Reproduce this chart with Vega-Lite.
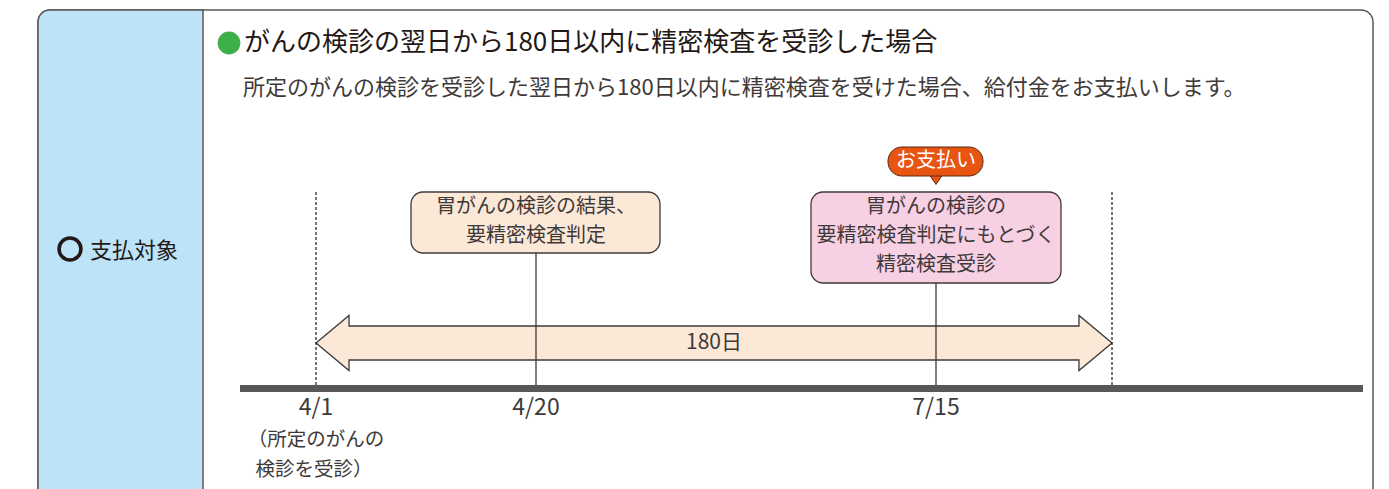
{
  "$schema": "https://vega.github.io/schema/vega-lite/v6.json",
  "width": 1389,
  "height": 489,
  "padding": 0,
  "autosize": {"type": "fit", "contains": "padding"},
  "background": "white",
  "config": {"view": {"stroke": null}, "text": {"font": "Noto Sans CJK JP"}},
  "datasets": {
    "frame": [{"x": 38, "x2": 1373, "y": 10, "y2": 540}],
    "panel": [{"x": 38, "x2": 203, "y": 10, "y2": 540}],
    "ring": [{"x": 70, "y": 249}],
    "dot": [{"x": 229, "y": 43}],
    "title": [{"x": 244, "y": 43, "t": "がんの検診の翌日から180日以内に精密検査を受診した場合"}],
    "subtitle": [{"x": 243, "y": 88, "t": "所定のがんの検診を受診した翌日から180日以内に精密検査を受けた場合、給付金をお支払いします。"}],
    "side": [{"x": 90, "y": 251, "t": "支払対象"}],
    "arrow": [{"x": 714, "y": 343}],
    "dotted": [{"x": 316, "y": 192, "y2": 385}, {"x": 1112, "y": 192, "y2": 385}],
    "stems": [{"x": 536, "y": 253, "y2": 386}, {"x": 936, "y": 283, "y2": 386}],
    "timeline": [{"x": 240, "x2": 1363, "y": 388.5}],
    "box1": [{"x": 411, "x2": 660, "y": 192, "y2": 253}],
    "box2": [{"x": 811, "x2": 1061, "y": 192, "y2": 283}],
    "boxtext": [
      {"x": 536, "y": 207, "t": "胃がんの検診の結果、"},
      {"x": 536, "y": 236, "t": "要精密検査判定"},
      {"x": 936, "y": 207, "t": "胃がんの検診の"},
      {"x": 936, "y": 236, "t": "要精密検査判定にもとづく"},
      {"x": 936, "y": 265, "t": "精密検査受診"}
    ],
    "bubble": [{"x": 888, "x2": 983, "y": 147, "y2": 176}],
    "pointer": [{"x": 936, "y": 179.5}],
    "bubbletext": [{"x": 936, "y": 161, "t": "お支払い"}],
    "days": [{"x": 714, "y": 343, "t": "180日"}],
    "dates": [{"x": 316, "y": 408, "t": "4/1"}, {"x": 536, "y": 408, "t": "4/20"}, {"x": 936, "y": 408, "t": "7/15"}],
    "note": [{"x": 316, "y": 440, "t": "（所定のがんの"}, {"x": 314, "y": 470, "t": "検診を受診）"}]
  },
  "encoding": {
    "x": {"field": "x", "type": "quantitative", "scale": {"domain": [0, 1389], "nice": false, "zero": false}, "axis": null},
    "y": {"field": "y", "type": "quantitative", "scale": {"domain": [0, 489], "nice": false, "zero": false, "reverse": true}, "axis": null}
  },
  "layer": [
    {"data": {"name": "frame"}, "mark": {"type": "rect", "fill": "white", "stroke": "#595757", "strokeWidth": 1.5, "cornerRadius": 12, "clip": true},
     "encoding": {"x2": {"field": "x2"}, "y2": {"field": "y2"}}},
    {"data": {"name": "panel"}, "mark": {"type": "rect", "fill": "#BDE3F8", "stroke": "#595757", "strokeWidth": 1.5, "cornerRadiusTopLeft": 12, "clip": true},
     "encoding": {"x2": {"field": "x2"}, "y2": {"field": "y2"}}},
    {"data": {"name": "ring"}, "mark": {"type": "point", "shape": "circle", "filled": false, "stroke": "#231815", "strokeWidth": 3.6, "size": 480, "opacity": 1}},
    {"data": {"name": "side"}, "mark": {"type": "text", "align": "left", "baseline": "middle", "fontSize": 22, "fill": "#231815"},
     "encoding": {"text": {"field": "t"}}},
    {"data": {"name": "dot"}, "mark": {"type": "point", "shape": "circle", "filled": true, "fill": "#3EB049", "size": 520, "opacity": 1, "strokeWidth": 0}},
    {"data": {"name": "title"}, "mark": {"type": "text", "align": "left", "baseline": "middle", "fontSize": 26, "fontWeight": "normal", "fill": "#231815"},
     "encoding": {"text": {"field": "t"}}},
    {"data": {"name": "subtitle"}, "mark": {"type": "text", "align": "left", "baseline": "middle", "fontSize": 22, "fill": "#3E3A39"},
     "encoding": {"text": {"field": "t"}}},
    {"data": {"name": "arrow"}, "mark": {"type": "point", "shape": "M-1,0L-0.917,-0.0691L-0.917,-0.0427L0.917,-0.0427L0.917,-0.0691L1,0L0.917,0.0691L0.917,0.0427L-0.917,0.0427L-0.917,0.0691Z", "size": 633616, "filled": true, "fill": "#FCE8D6", "stroke": "#3E3A39", "strokeWidth": 1.3, "opacity": 1}},
    {"data": {"name": "dotted"}, "mark": {"type": "rule", "stroke": "#231815", "strokeWidth": 1.2, "strokeDash": [3, 2]},
     "encoding": {"y2": {"field": "y2"}}},
    {"data": {"name": "stems"}, "mark": {"type": "rule", "stroke": "#3E3A39", "strokeWidth": 1.3},
     "encoding": {"y2": {"field": "y2"}}},
    {"data": {"name": "timeline"}, "mark": {"type": "rule", "stroke": "#595757", "strokeWidth": 7, "strokeCap": "butt"},
     "encoding": {"x2": {"field": "x2"}}},
    {"data": {"name": "box1"}, "mark": {"type": "rect", "fill": "#FCE8D6", "stroke": "#3E3A39", "strokeWidth": 1.3, "cornerRadius": 12},
     "encoding": {"x2": {"field": "x2"}, "y2": {"field": "y2"}}},
    {"data": {"name": "box2"}, "mark": {"type": "rect", "fill": "#F8D0E4", "stroke": "#3E3A39", "strokeWidth": 1.3, "cornerRadius": 12},
     "encoding": {"x2": {"field": "x2"}, "y2": {"field": "y2"}}},
    {"data": {"name": "boxtext"}, "mark": {"type": "text", "align": "center", "baseline": "middle", "fontSize": 20, "fill": "#3E3A39"},
     "encoding": {"text": {"field": "t"}}},
    {"data": {"name": "pointer"}, "mark": {"type": "point", "shape": "M-0.65,-0.5L0.65,-0.5L0,0.45Z", "size": 484, "filled": true, "fill": "#E85513", "stroke": "#5A2A14", "strokeWidth": 1, "opacity": 1}},
    {"data": {"name": "bubble"}, "mark": {"type": "rect", "fill": "#E85513", "stroke": "#5A2A14", "strokeWidth": 1, "cornerRadius": 14},
     "encoding": {"x2": {"field": "x2"}, "y2": {"field": "y2"}}},
    {"data": {"name": "bubbletext"}, "mark": {"type": "text", "align": "center", "baseline": "middle", "fontSize": 20, "fill": "white"},
     "encoding": {"text": {"field": "t"}}},
    {"data": {"name": "days"}, "mark": {"type": "text", "align": "center", "baseline": "middle", "fontSize": 21, "fill": "#3E3A39"},
     "encoding": {"text": {"field": "t"}}},
    {"data": {"name": "dates"}, "mark": {"type": "text", "align": "center", "baseline": "middle", "fontSize": 23, "fill": "#3E3A39"},
     "encoding": {"text": {"field": "t"}}},
    {"data": {"name": "note"}, "mark": {"type": "text", "align": "center", "baseline": "middle", "fontSize": 19.5, "fill": "#3E3A39"},
     "encoding": {"text": {"field": "t"}}}
  ]
}
